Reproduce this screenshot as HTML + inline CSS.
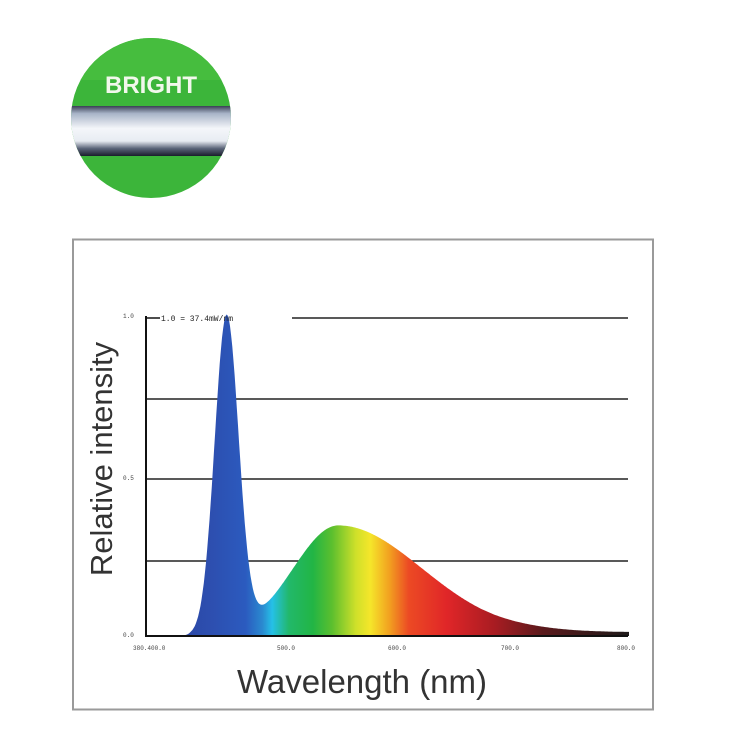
<!DOCTYPE html>
<html><head><meta charset="utf-8"><style>
html,body{margin:0;padding:0;background:#fff;}
body{width:730px;height:730px;position:relative;overflow:hidden;font-family:"Liberation Sans",sans-serif;}
</style></head><body>
<svg width="730" height="730" viewBox="0 0 730 730" xmlns="http://www.w3.org/2000/svg" style="position:absolute;left:0;top:0">
<defs>
<clipPath id="cc"><circle cx="151" cy="118" r="80"/></clipPath>
<linearGradient id="gb" x1="0" y1="0" x2="0" y2="1">
<stop offset="0" stop-color="#3a3f55"/><stop offset="0.15" stop-color="#a8b4c8"/>
<stop offset="0.45" stop-color="#f4f6fa"/><stop offset="0.7" stop-color="#e8ecf2"/>
<stop offset="0.85" stop-color="#5a6478"/><stop offset="1" stop-color="#1a1e2c"/>
</linearGradient>
<linearGradient id="sp" gradientUnits="userSpaceOnUse" x1="150" y1="0" x2="629" y2="0">
<stop offset="0" stop-color="#2a3f9a"/>
<stop offset="0.13" stop-color="#2d4fb0"/>
<stop offset="0.2" stop-color="#2b5bbf"/>
<stop offset="0.235" stop-color="#2a8ad0"/>
<stop offset="0.255" stop-color="#25c0e8"/>
<stop offset="0.29" stop-color="#22b86a"/>
<stop offset="0.34" stop-color="#22b545"/>
<stop offset="0.38" stop-color="#5cbf2e"/>
<stop offset="0.43" stop-color="#cfe02a"/>
<stop offset="0.46" stop-color="#f5e62a"/>
<stop offset="0.5" stop-color="#f2a020"/>
<stop offset="0.54" stop-color="#ec4a24"/>
<stop offset="0.62" stop-color="#e02628"/>
<stop offset="0.72" stop-color="#a81c22"/>
<stop offset="0.82" stop-color="#5a1a1c"/>
<stop offset="1" stop-color="#1e1a1a"/>
</linearGradient>
</defs>
<g clip-path="url(#cc)">
<rect x="60" y="30" width="200" height="180" fill="#3cb53a"/>
<rect x="60" y="30" width="200" height="50" fill="#46bd3e"/>
<rect x="60" y="106" width="200" height="50" fill="url(#gb)"/>
</g>
<text x="151" y="93" text-anchor="middle" font-size="24" font-weight="bold" fill="#f2f8ec">BRIGHT</text>
<rect x="73" y="239.5" width="580" height="470" fill="none" stroke="#9a9a9a" stroke-width="2"/>
<g stroke="#222" stroke-width="1.6">
<line x1="146" y1="318" x2="160" y2="318"/>
<line x1="292" y1="318" x2="628" y2="318"/>
<line x1="146" y1="399" x2="628" y2="399"/>
<line x1="146" y1="479" x2="628" y2="479"/>
<line x1="146" y1="561" x2="628" y2="561"/>
</g>
<path id="spec" fill="url(#sp)" d=""/>
<g stroke="#111" stroke-width="2"><line x1="146" y1="316" x2="146" y2="637"/><line x1="146" y1="636" x2="628" y2="636"/></g>
<text x="161" y="321" font-family="Liberation Mono" font-size="8" fill="#222">1.0 = 37.4mW/nm</text>
<g font-family="Liberation Mono" font-size="6" fill="#444">
<text x="123" y="318">1.0</text><text x="123" y="480">0.5</text><text x="123" y="637">0.0</text>
<text x="133" y="650">380.400.0</text><text x="277" y="650">500.0</text><text x="388" y="650">600.0</text><text x="501" y="650">700.0</text><text x="617" y="650">800.0</text>
</g>
<text transform="translate(112,459) rotate(-90)" text-anchor="middle" font-size="31" fill="#333">Relative intensity</text>
<text x="362" y="693" text-anchor="middle" font-size="33" fill="#333">Wavelength (nm)</text>
</svg>
<script>
function I(l){var b=Math.exp(-Math.pow((l-447)/10.5,2)/2);var s=l<545?40:74;var h=0.35*Math.exp(-Math.pow((l-545)/s,2)/2);var t=0.012/(1+Math.exp(-(l-690)/15));return b+h+t;}
var d="M150,636";
for(var l=380;l<=800;l+=1){var x=287+(l-500)*1.14;var v=I(l);if(l<415)v*=Math.max(0,(l-395)/20);var y=636-v*316;d+=" L"+x.toFixed(1)+","+y.toFixed(1);}
d+=" L629,636 Z";
document.getElementById("spec").setAttribute("d",d);
</script>
</body></html>
